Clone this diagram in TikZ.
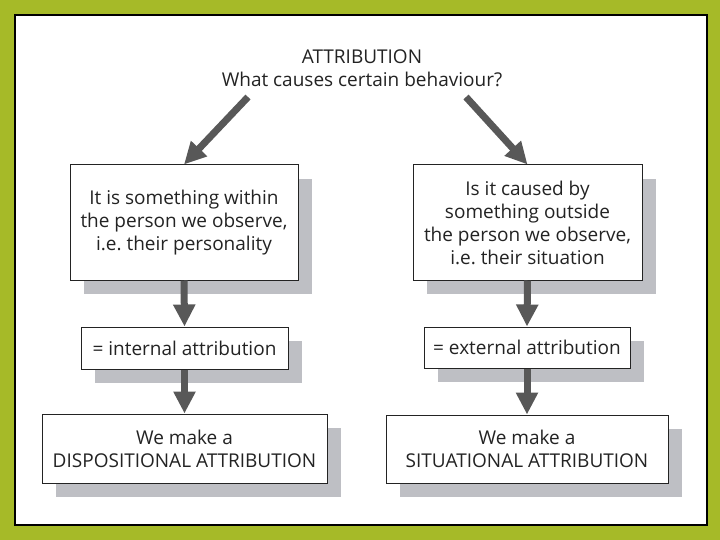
\documentclass[tikz,border=0pt]{standalone}
\usepackage{fontspec}
\setmainfont{Open Sans}
\usepackage{xcolor}
\usetikzlibrary{arrows.meta,shadows}
\frenchspacing

\definecolor{olive}{RGB}{166,186,40}
\definecolor{shade}{RGB}{190,191,196}
\definecolor{ink}{RGB}{35,35,35}
\definecolor{arrowgray}{RGB}{88,88,88}

\begin{document}
\begin{tikzpicture}[x=1pt,y=-1pt,
    every node/.style={font=\fontsize{19}{23}\selectfont, text=ink},
    box/.style={draw=ink, line width=1pt, fill=white, align=center, inner sep=0pt,
        drop shadow={shadow xshift=14pt, shadow yshift=-14pt, fill=shade, opacity=1}},
    bigarrow/.style={draw=arrowgray, line width=7pt, -{Triangle[length=22pt,width=21pt]}}]
            % Draw frame
            \fill[olive] (0,0) rectangle (720,540);
            \draw[fill=white, line width=1.5pt] (15,15) rectangle (707,525);

            % Add title
            \node[align=center] (title) at (362,68) {ATTRIBUTION\\What causes certain behaviour?};

            % Add boxes
            \node[box, minimum width=228pt, minimum height=115pt] (within) at (184,222.5)
                {It is something within\\the person we observe,\\i.e. their personality};
            \node[box, minimum width=207pt, minimum height=42pt] (internal) at (184.5,348)
                {= internal attribution};
            \node[box, minimum width=285pt, minimum height=69pt] (dispositional) at (184.5,448.5)
                {We make a\\DISPOSITIONAL ATTRIBUTION};
            \node[box, minimum width=229pt, minimum height=115pt] (outside) at (527.5,222.5)
                {Is it caused by\\something outside\\the person we observe,\\i.e. their situation};
            \node[box, minimum width=206pt, minimum height=41pt] (external) at (527,347.5)
                {= external attribution};
            \node[box, minimum width=282pt, minimum height=68pt] (situational) at (527,449)
                {We make a\\SITUATIONAL ATTRIBUTION};

            % Add arrows
            \coordinate (lstart) at (248,97);
            \coordinate (rstart) at (466,97);
            \draw[bigarrow] (lstart) -- (within.north);
            \draw[bigarrow] (rstart) -- (outside.north);
            \draw[bigarrow] (within.south) -- (internal.north);
            \draw[bigarrow] (internal.south) -- (dispositional.north);
            \draw[bigarrow] (outside.south) -- (external.north);
            \draw[bigarrow] (external.south) -- (situational.north);
        \end{tikzpicture}
\end{document}
